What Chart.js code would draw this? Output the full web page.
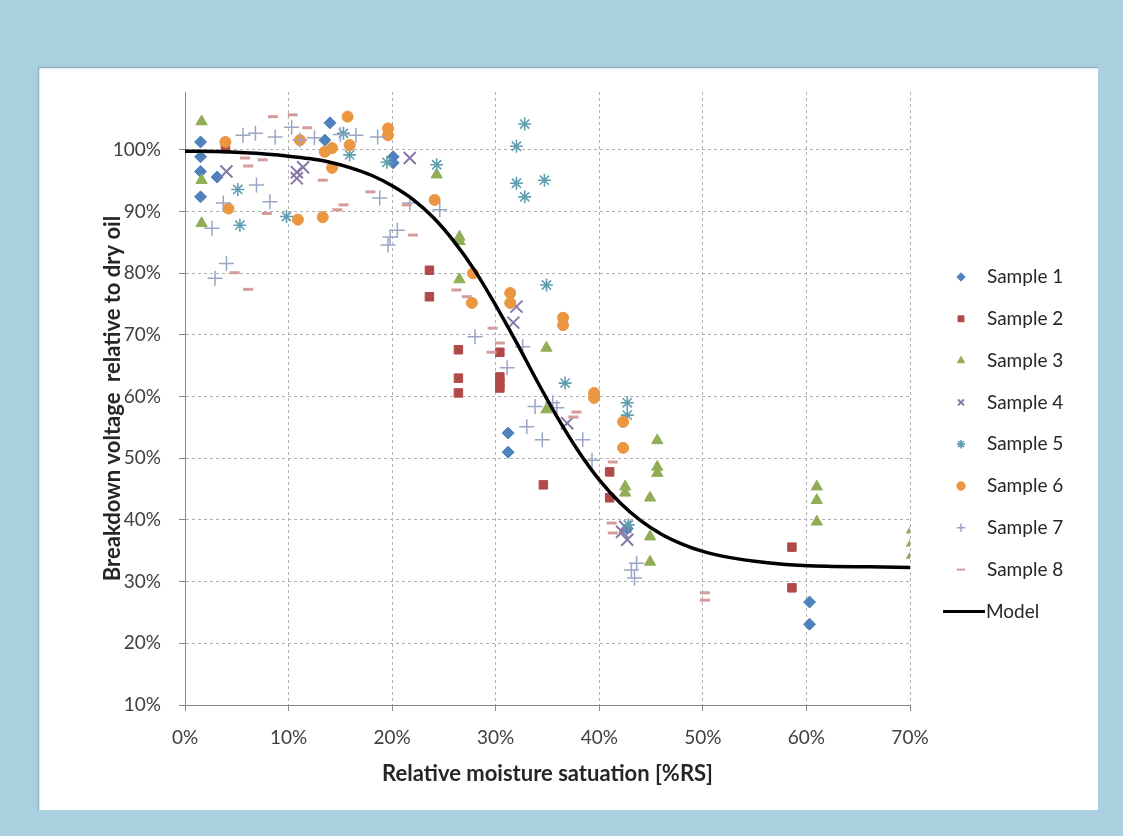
<!DOCTYPE html>
<html><head><meta charset="utf-8">
<script src="https://cdn.jsdelivr.net/npm/chart.js@4.4.1/dist/chart.umd.min.js"></script>
<style>html,body{margin:0;padding:0;background:#AAD0DF;overflow:hidden}#wrap{width:1123px;height:836px;position:relative}</style>
</head><body><div id="wrap"><canvas id="c" width="1123" height="836"></canvas></div>
<script>
// ---- data (x = relative moisture saturation %, y = breakdown voltage relative to dry oil %) ----
const s1x = [1.5,1.5,1.5,1.5,3.1,14.0,13.5,20.1,20.1,31.2,31.2,42.7,60.3,60.3];
const s1y = [101.3,98.9,96.5,92.4,95.6,104.4,101.6,98.9,97.9,54.1,51.0,38.6,26.7,23.1];
const s2x = [3.9,23.6,23.6,26.4,26.4,26.4,30.4,30.4,30.4,30.4,34.6,41.0,41.0,58.6,58.6];
const s2y = [100.2,80.5,76.2,67.6,63.0,60.6,67.2,63.2,62.2,61.4,45.7,47.8,43.6,35.6,29.0];
const s3x = [1.6,1.6,1.6,24.3,26.5,26.5,26.5,34.9,34.9,42.5,42.5,45.6,45.6,45.6,44.9,44.9,44.9,61.0,61.0,61.0,70.2,70.2,70.2];
const s3y = [104.6,95.1,88.1,96.0,85.9,85.2,79.0,67.9,57.9,45.4,44.4,52.9,48.6,47.6,43.6,37.3,33.2,45.4,43.2,39.7,38.4,36.3,34.3];
const s4x = [4.0,10.8,10.8,11.4,21.7,32.0,31.7,36.9,42.5,42.2,42.7];
const s4y = [96.5,96.4,95.4,97.2,98.7,74.6,72.0,55.7,38.9,38.1,36.8];
const s5x = [5.1,5.3,9.8,15.3,15.9,19.5,24.3,32.8,32.0,32.0,32.8,34.7,34.9,36.7,42.7,42.7,42.8];
const s5y = [93.6,87.8,89.2,102.7,99.2,98.0,97.6,104.2,100.6,94.6,92.4,95.1,78.1,62.2,59.0,57.0,39.2];
const s6x = [3.9,4.2,10.9,11.1,13.3,13.5,14.2,14.2,15.7,15.9,19.6,19.6,24.1,27.7,27.8,31.4,31.4,36.5,36.5,39.5,39.5,42.3,42.3];
const s6y = [101.3,90.5,88.7,101.6,89.1,99.7,100.3,97.1,105.4,100.8,103.5,102.4,91.9,75.2,80.0,76.8,75.2,72.8,71.6,60.6,59.8,55.9,51.7];
const s7x = [2.6,2.9,3.7,4.0,5.6,6.8,6.9,8.2,8.7,10.3,11.1,12.5,15.0,16.5,18.6,18.8,19.6,19.8,20.5,21.7,24.6,28.0,31.1,32.6,33.0,33.8,34.5,35.5,35.9,38.4,39.3,43.6,43.1,43.4];
const s7y = [87.3,79.2,91.4,81.6,102.4,102.7,94.3,91.6,102.1,103.7,101.6,102.0,102.5,102.4,102.1,92.2,84.6,85.9,87.0,91.4,90.3,69.7,64.7,68.1,55.1,58.4,53.0,59.0,58.2,53.0,49.7,33.0,31.9,30.6];
const s8x = [8.5,10.4,11.8,5.8,7.5,6.1,7.9,4.8,6.1,13.3,14.7,15.3,17.9,21.4,22.0,26.2,27.2,29.7,29.6,30.4,37.8,37.5,41.3,41.2,41.3,50.2,50.2];
const s8y = [105.4,105.7,103.6,98.7,98.4,97.4,89.7,80.1,77.4,95.1,90.3,91.1,93.2,91.1,86.2,77.3,76.2,71.1,67.2,68.7,57.5,56.7,49.4,39.5,37.9,28.2,27.0];
const modelX = [0,4,8,10,12,14,16,18,20,22,24,26,28,30,32,34,36,38,40,42,44,46,48,50,52,55,58,62,66,70];
const modelY = [99.8,99.7,99.3,99.0,98.6,98.0,97.1,95.9,94.2,92.0,89.0,85.1,80.4,74.8,68.8,62.5,56.5,51.1,46.5,42.8,39.9,37.7,36.1,34.9,34.1,33.3,32.8,32.5,32.4,32.3];
const xTicks = [0,10,20,30,40,50,60,70];
const yTicks = [10,20,30,40,50,60,70,80,90,100];
const seriesNames = ['Sample 1','Sample 2','Sample 3','Sample 4','Sample 5','Sample 6','Sample 7','Sample 8'];
const modelName = 'Model';

const FONT = 'Lato, "Open Sans", sans-serif';
const styles = [
  {ps:'rectRot', r:6, c:'#4F81BD', bw:1},
  {ps:'rect', r:6, c:'#B04A48', bw:1},
  {ps:'triangle', r:6.5, c:'#8FAE55', bw:1},
  {ps:'crossRot', r:8.5, c:'#8878A8', bw:2},
  {ps:'star', r:6.5, c:'#5F9FB0', bw:1.6},
  {ps:'circle', r:5.5, c:'#EB9640', bw:1},
  {ps:'cross', r:7.5, c:'#9AA4C6', bw:1.5},
  {ps:'line', r:5, c:'#D59C9C', bw:3}
];
const xs = [s1x,s2x,s3x,s4x,s5x,s6x,s7x,s8x];
const ys = [s1y,s2y,s3y,s4y,s5y,s6y,s7y,s8y];

const datasets = seriesNames.map((name,i)=>({
  type:'scatter', label:name,
  data: xs[i].map((x,k)=>({x:x, y:ys[i][k]})),
  pointStyle: styles[i].ps, pointRadius: styles[i].r,
  backgroundColor: styles[i].c, borderColor: styles[i].c, borderWidth: styles[i].bw,
  order: 8 - i
}));
datasets.push({
  type:'line', label:modelName,
  data: modelX.map((x,k)=>({x:x, y:modelY[k]})),
  borderColor:'#000', borderWidth:3.5, pointRadius:0, fill:false,
  cubicInterpolationMode:'monotone', order:-1
});

const bgPlugin = {
  id:'bg',
  beforeDraw(chart){
    const ctx = chart.ctx;
    ctx.save();
    ctx.fillStyle = '#AAD0DF';
    ctx.fillRect(0,0,chart.width,chart.height);
    ctx.fillStyle = '#FFFFFF';
    ctx.fillRect(38,67,1060,743);
    ctx.strokeStyle = '#8FB0BE';
    ctx.lineWidth = 1.5;
    ctx.beginPath(); ctx.moveTo(38.5,810); ctx.lineTo(38.5,67.5); ctx.lineTo(1098,67.5); ctx.stroke();
    ctx.restore();
  }
};

const legendPlugin = {
  id:'customLegend',
  afterDraw(chart){
    const ctx = chart.ctx;
    ctx.save();
    ctx.font = '19px ' + FONT;
    ctx.textBaseline = 'middle';
    ctx.textAlign = 'left';
    for (let i=0;i<seriesNames.length;i++){
      const y = 277 + i*41.8;
      ctx.fillStyle = styles[i].c; ctx.strokeStyle = styles[i].c;
      ctx.lineWidth = Math.min(styles[i].bw, 2);
      Chart.helpers.drawPoint(ctx, {pointStyle: styles[i].ps, radius: 4.2, rotation:0, borderWidth: Math.min(styles[i].bw,2)}, 961, y);
      ctx.fillStyle = '#262626';
      ctx.fillText(seriesNames[i], 987, y);
    }
    const my = 277 + 8*41.8;
    ctx.strokeStyle = '#000'; ctx.lineWidth = 3;
    ctx.beginPath(); ctx.moveTo(943,my); ctx.lineTo(985,my); ctx.stroke();
    ctx.fillStyle = '#262626';
    ctx.fillText(modelName, 986, my);
    ctx.restore();
  }
};

Chart.defaults.font.family = FONT;
new Chart(document.getElementById('c'), {
  data: { datasets },
  options: {
    responsive:false, animation:false, events:[],
    layout:{ padding:{ left:100, top:92, right:213, bottom:49 } },
    plugins:{ legend:{display:false}, tooltip:{enabled:false} },
    scales:{
      x:{
        type:'linear', min:0, max:70,
        afterBuildTicks(s){ s.ticks = xTicks.map(v=>({value:v})); },
        afterFit(s){ s.height = 82; },
        ticks:{ callback:v=>v+'%', color:'#404040', font:{size:19}, padding:15 },
        grid:{ color:'#B0B0B0', lineWidth:1, tickLength:6, tickColor:'#868686', tickBorderDash:[] },
        border:{ color:'#868686', width:1, dash:[3,3] },
        title:{ display:true, text:'Relative moisture satuation [%RS]', color:'#262626', font:{size:22, weight:'bold'}, padding:{top:0,bottom:0} }
      },
      y:{
        type:'linear', min:10, max:109.4,
        afterBuildTicks(s){ s.ticks = yTicks.map(v=>({value:v})); },
        afterFit(s){ s.width = 85; },
        ticks:{ callback:v=>v+'%', color:'#404040', font:{size:19}, padding:18 },
        grid:{ color:'#B0B0B0', lineWidth:1, tickLength:6, tickColor:'#868686', tickBorderDash:[] },
        border:{ color:'#868686', width:1, dash:[3,3] },
        title:{ display:true, text:'Breakdown voltage  relative to dry oil', color:'#262626', font:{size:22, weight:'bold'}, padding:{top:0,bottom:0} }
      }
    }
  },
  plugins:[bgPlugin, legendPlugin]
});
</script>
</body></html>
